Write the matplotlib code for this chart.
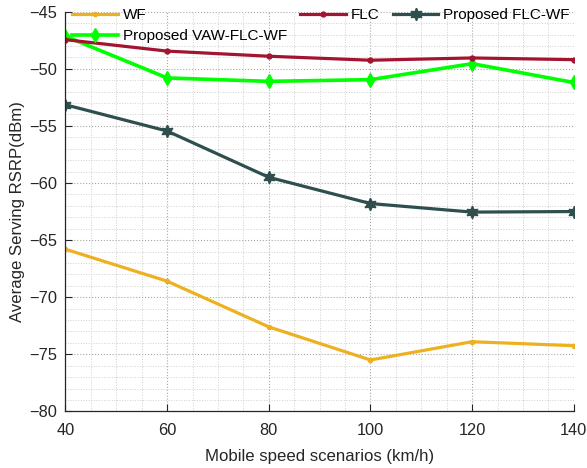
import matplotlib.pyplot as plt
from matplotlib.ticker import MultipleLocator

plt.rcParams['font.family'] = ['Liberation Sans', 'DejaVu Sans']

speed = [40, 60, 80, 100, 120, 140]
wf = [-65.8, -68.6, -72.6, -75.5, -73.9, -74.25]
flc = [-47.45, -48.45, -48.9, -49.25, -49.05, -49.2]
vaw_flc_wf = [-47.15, -50.8, -51.1, -50.95, -49.55, -51.2]
flc_wf = [-53.15, -55.45, -59.5, -61.8, -62.55, -62.5]

fig = plt.figure(figsize=(5.87, 4.68), dpi=100)
ax = fig.add_axes([0.1115, 0.121, 0.866, 0.854])

hexagram = (6, 1, 0)
ax.plot(speed, wf, color='#EDB120', lw=2.3, marker='.', ms=6, label='WF')
ax.plot(speed, vaw_flc_wf, color='#00FF00', lw=2.6, marker='d', ms=7.5,
        label='Proposed VAW-FLC-WF')
ax.plot(speed, flc, color='#A2142F', lw=2.3, marker='.', ms=7, label='FLC')
ax.plot(speed, flc_wf, color='#2F4F4F', lw=2.3, marker=hexagram, ms=9,
        label='Proposed FLC-WF')

ax.set_xlim(40, 140)
ax.set_ylim(-80, -45)
ax.xaxis.set_major_locator(MultipleLocator(20))
ax.xaxis.set_minor_locator(MultipleLocator(5))
ax.yaxis.set_major_locator(MultipleLocator(5))
ax.yaxis.set_minor_locator(MultipleLocator(1))
ax.grid(True, which='major', ls=':', color='#a8a8a8', lw=0.8)
ax.grid(True, which='minor', ls=':', color='#cfcfcf', lw=0.7)
ax.tick_params(which='major', direction='in', length=5, labelsize=11.8,
               top=False, right=False, color='#262626', labelcolor='#262626')
ax.tick_params(axis='x', which='major', pad=8.5)
ax.tick_params(axis='y', which='major', pad=6)
ax.tick_params(which='minor', length=0)
ax.spines['top'].set_visible(False)
ax.spines['right'].set_visible(False)
for s in ('left', 'bottom'):
    ax.spines[s].set_linewidth(0.9)
    ax.spines[s].set_color('#262626')

ax.set_xlabel('Mobile speed scenarios (km/h)', fontsize=12.1, color='#262626',
              labelpad=8)
ax.set_ylabel('Average Serving RSRP(dBm)', fontsize=12.1, color='#262626',
              labelpad=3)

handles, labels = ax.get_legend_handles_labels()
ax.legend(handles, labels, ncol=3, frameon=False, fontsize=11,
          loc='upper left', bbox_to_anchor=(72 / 587, 0.982),
          bbox_transform=fig.transFigure,
          handlelength=3.0, handletextpad=0.33, columnspacing=0.85,
          labelspacing=0.45, borderaxespad=0.0, borderpad=0.0)

fig.savefig('out.png', dpi=100)
